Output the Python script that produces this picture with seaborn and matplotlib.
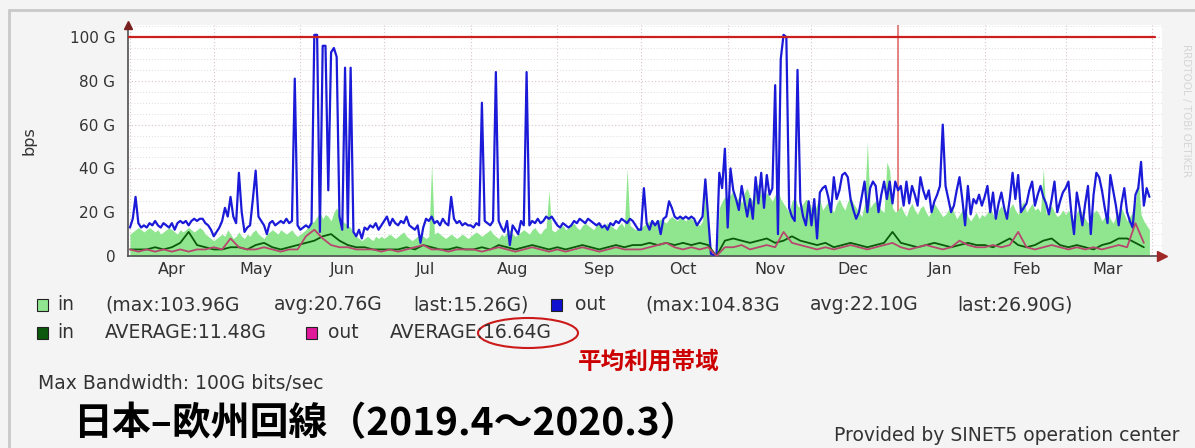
import numpy as np
import pandas as pd
import matplotlib
matplotlib.use('Agg')
import matplotlib.pyplot as plt
import matplotlib.dates as mdates
import matplotlib.patches as mpatches
from matplotlib.ticker import MultipleLocator, FuncFormatter
from matplotlib.lines import Line2D
import seaborn as sns

# ---------------- data (Gbps, daily, 2019-04-01 .. 2020-03-31) ----------------
start_day = '2019-04-01'
# out (blue line), one value per day
out_gbps = [
    13, 17, 27, 15, 13, 14, 13, 15, 14, 16, 14, 13, 15, 14, 13, 15, 12, 15, 16, 15, 16, 14, 16, 17, 16, 17, 17, 15, 14, 12,  # Apr
    9, 11, 13, 16, 22, 18, 27, 18, 15, 38, 20, 11, 13, 14, 26, 39, 18, 16, 14, 10, 15, 16, 14, 15, 16, 15, 17, 15, 16, 81, 14,  # May
    12, 13, 14, 13, 15, 101, 101, 11, 96, 96, 30, 93, 95, 91, 18, 12, 86, 13, 86, 11, 9, 12, 8, 13, 12, 14, 13, 15, 12, 14,  # Jun
    16, 18, 14, 17, 15, 14, 16, 15, 18, 14, 13, 12, 14, 6, 13, 17, 16, 18, 15, 16, 14, 17, 15, 14, 27, 17, 15, 16, 14, 15, 14,  # Jul
    14, 13, 15, 14, 70, 16, 15, 14, 16, 84, 16, 13, 11, 16, 5, 14, 12, 10, 16, 14, 84, 14, 16, 15, 17, 15, 16, 18, 17, 18, 16,  # Aug
    14, 13, 15, 14, 13, 14, 16, 15, 17, 16, 15, 17, 16, 15, 14, 15, 13, 14, 12, 15, 14, 16, 15, 17, 16, 15, 17, 16, 14, 12,  # Sep
    12, 31, 15, 12, 16, 14, 16, 10, 17, 18, 25, 22, 18, 17, 18, 17, 18, 17, 18, 17, 14, 16, 18, 35, 18, 1, 0.5, 0.5, 38, 31, 49,  # Oct
    13, 40, 30, 26, 21, 32, 25, 18, 26, 17, 36, 24, 38, 22, 37, 28, 31, 78, 10, 90, 101, 100, 22, 18, 16, 85, 25, 18, 14, 25,  # Nov
    14, 26, 8, 29, 31, 32, 27, 20, 36, 26, 30, 37, 38, 36, 26, 21, 17, 20, 27, 34, 20, 31, 34, 32, 20, 28, 34, 26, 34, 24, 34,  # Dec
    30, 32, 23, 34, 24, 32, 28, 23, 36, 30, 26, 30, 20, 25, 28, 32, 60, 32, 26, 20, 23, 30, 36, 26, 14, 32, 19, 26, 24, 28, 23,  # Jan
    27, 32, 20, 29, 17, 24, 29, 22, 17, 26, 38, 26, 37, 20, 22, 24, 30, 34, 23, 28, 32, 27, 24, 19, 26, 34, 20, 25, 29,  # Feb
    31, 34, 20, 10, 29, 22, 14, 24, 32, 10, 28, 38, 36, 30, 22, 15, 37, 30, 23, 14, 24, 31, 20, 16, 13, 28, 31, 43, 23, 31, 27,  # Mar
]
# in (light green area), one value per day
in_gbps = [
    10, 11, 12, 13, 12, 11, 12, 13, 12, 11, 12, 10, 11, 12, 13, 12, 11, 10, 12, 11, 12, 13, 12, 11, 12, 13, 12, 10, 9, 8,
    7, 8, 9, 10, 9, 12, 10, 8, 9, 11, 9, 8, 10, 9, 11, 12, 10, 9, 8, 10, 11, 12, 11, 10, 12, 11, 10, 11, 12, 10, 9,
    10, 11, 12, 14, 15, 16, 18, 20, 17, 19, 18, 16, 20, 22, 19, 16, 15, 14, 13, 10, 9, 8, 7, 8, 9, 8, 7, 9, 8, 9,
    8, 9, 10, 9, 8, 9, 10, 11, 9, 8, 7, 8, 9, 10, 9, 8, 9, 42, 10, 11, 10, 9, 8, 9, 10, 9, 8, 9, 10, 9, 8,
    9, 10, 11, 10, 9, 10, 11, 12, 10, 9, 8, 10, 9, 11, 12, 10, 9, 10, 11, 12, 11, 10, 12, 13, 11, 10, 12, 13, 30, 12, 11,
    12, 13, 14, 12, 13, 14, 15, 13, 12, 14, 15, 14, 13, 12, 14, 15, 13, 14, 15, 14, 13, 12, 14, 15, 13, 40, 14, 13, 12, 13,
    13, 14, 15, 16, 15, 14, 16, 17, 16, 15, 17, 18, 17, 16, 18, 17, 16, 18, 17, 16, 15, 14, 16, 30, 15, 0, 0, 0, 22, 25, 27,
    26, 28, 30, 25, 27, 24, 29, 31, 27, 25, 30, 33, 28, 26, 29, 27, 25, 28, 30, 26, 24, 22, 20, 25, 27, 23, 22, 24, 26, 25,
    22, 20, 24, 26, 21, 23, 25, 22, 20, 24, 26, 23, 21, 25, 27, 24, 22, 20, 18, 24, 52, 22, 24, 25, 23, 21, 20, 43, 39, 22, 20,
    21, 23, 20, 18, 22, 24, 21, 19, 22, 23, 20, 18, 21, 24, 22, 20, 18, 19, 21, 23, 20, 17, 19, 21, 22, 18, 16, 18, 20, 17, 19,
    18, 20, 22, 19, 17, 21, 23, 20, 18, 22, 24, 21, 19, 23, 25, 20, 22, 24, 21, 22, 20, 40, 19, 21, 23, 20, 18, 19, 21,
    19, 21, 18, 16, 20, 22, 19, 17, 15, 18, 20, 21, 19, 16, 18, 20, 17, 15, 18, 20, 22, 19, 16, 18, 20, 24, 36, 19, 16, 14, 12,
]
# AVERAGE lines, one value every 3 days
in_avg_gbps = [
    3, 3, 3, 4, 3, 4, 6, 11, 5, 4,
    3, 3, 4, 4, 3, 5, 6, 4, 3, 4, 5,
    6, 7, 9, 10, 7, 5, 4, 4, 3, 3,
    3, 3, 4, 3, 5, 4, 3, 3, 4, 3,
    3, 4, 3, 5, 4, 3, 4, 5, 4, 3,
    4, 3, 4, 5, 4, 3, 4, 5, 4, 5,
    5, 6, 5, 6, 5, 6, 5, 6, 5, 0, 7,
    8, 7, 6, 7, 8, 6, 7, 9, 7, 6,
    5, 6, 4, 5, 6, 5, 4, 5, 6, 11,
    6, 5, 4, 5, 6, 5, 4, 5, 6, 5,
    5, 4, 6, 8, 5, 4, 5, 7, 8, 5,
    4, 5, 4, 3, 5, 6, 8, 8, 6, 4,
]
out_avg_gbps = [
    3, 2, 3, 2, 3, 2, 3, 2, 3, 3,
    4, 3, 8, 4, 3, 3, 4, 3, 2, 3, 3,
    9, 12, 8, 5, 4, 4, 3, 3, 3, 2,
    3, 2, 3, 4, 5, 3, 3, 2, 3, 3,
    3, 2, 3, 4, 3, 2, 3, 4, 3, 2,
    3, 2, 3, 4, 3, 2, 3, 4, 3, 3,
    3, 4, 5, 6, 4, 3, 4, 3, 4, 0, 4,
    4, 5, 3, 4, 5, 4, 11, 6, 5, 4,
    3, 4, 3, 4, 5, 4, 3, 4, 5, 6,
    4, 3, 4, 5, 4, 3, 4, 7, 5, 4,
    4, 5, 4, 5, 11, 4, 3, 4, 5, 4,
    3, 4, 3, 4, 3, 4, 5, 4, 15, 6,
]
legend_row1 = ['in', '(max:103.96G', 'avg:20.76G', 'last:15.26G)',
               'out', '(max:104.83G', 'avg:22.10G', 'last:26.90G)']
legend_row2 = ['in', 'AVERAGE:11.48G', 'out', 'AVERAGE:16.64G']
y_ticks = [0, 20, 40, 60, 80, 100]

days = pd.date_range(start_day, periods=len(out_gbps), freq='D')
days3 = pd.date_range(start_day, periods=len(in_avg_gbps), freq='3D')
df_day = pd.DataFrame({'date': days, 'out': out_gbps, 'in': in_gbps})
df_avg = pd.DataFrame({'date': days3, 'in_avg': in_avg_gbps, 'out_avg': out_avg_gbps})

# ---------------- style ----------------
sns.set_style('white')
plt.rcParams['font.family'] = ['DejaVu Sans']
BG = '#f4f4f4'
TXT = '#333333'
C_IN = '#8fe68f'
C_OUT = '#1a1ad8'
C_INAVG = '#0b5a0b'
C_OUTAVG = '#b8466e'
CJK = ['Noto Sans CJK JP', 'DejaVu Sans']
LEG_FS = 13.5

W, H = 1195, 448
fig = plt.figure(figsize=(W / 100, H / 100), dpi=100, facecolor=BG)


def fx(x):
    return x / W


def fy(y):
    return 1 - y / H


ax = fig.add_axes([fx(128), fy(256), fx(1162) - fx(128), fy(25) - fy(256)])
ax.set_facecolor('white')

# light green area for "in"
ax.fill_between(df_day['date'], 0, df_day['in'], color=C_IN, lw=0, zorder=2)
sns.lineplot(data=df_day, x='date', y='out', ax=ax, color=C_OUT, lw=1.6,
             estimator=None, sort=False, zorder=3)
sns.lineplot(data=df_avg, x='date', y='in_avg', ax=ax, color=C_INAVG, lw=1.3,
             estimator=None, sort=False, zorder=4)
sns.lineplot(data=df_avg, x='date', y='out_avg', ax=ax, color=C_OUTAVG, lw=1.3,
             estimator=None, sort=False, zorder=5)

# max bandwidth line and year boundary
ax.axhline(100, xmax=0.993, color='#cc2020', lw=1.6, zorder=6)
ax.axvline(pd.Timestamp('2020-01-01'), color='#e07070', lw=1.2, zorder=1)

t0 = pd.Timestamp(start_day)
ax.set_xlim(t0 - pd.Timedelta(hours=17), t0 + pd.Timedelta(days=369.5))
ax.set_ylim(0, 105.5)

# axes / grid
ax.yaxis.set_major_locator(MultipleLocator(20))
ax.yaxis.set_minor_locator(MultipleLocator(5))
ax.set_yticks(y_ticks)
ax.yaxis.set_major_formatter(FuncFormatter(lambda v, p: '0' if v == 0 else f'{int(v)} G'))
ax.xaxis.set_major_locator(mdates.MonthLocator())
ax.xaxis.set_major_formatter(plt.NullFormatter())
ax.xaxis.set_minor_locator(mdates.MonthLocator(bymonthday=16))
ax.xaxis.set_minor_formatter(mdates.DateFormatter('%b'))
ax.grid(True, which='major', axis='both', color='#d9c4c4', lw=0.8, ls=(0, (1, 2)), zorder=0)
ax.grid(True, which='minor', axis='y', color='#dddddd', lw=0.7, ls=(0, (1, 2)), zorder=0)
ax.set_axisbelow(True)
ax.tick_params(axis='y', which='major', length=3, color='#555555', labelsize=11, labelcolor=TXT, pad=6)
ax.tick_params(axis='y', which='minor', length=0)
ax.tick_params(axis='x', which='major', length=3, color='#555555')
ax.tick_params(axis='x', which='minor', length=0, labelsize=11.5, labelcolor=TXT, pad=4)
for s in ['top', 'right']:
    ax.spines[s].set_visible(False)
for s in ['left', 'bottom']:
    ax.spines[s].set_color('#505050')
    ax.spines[s].set_linewidth(1.2)
ax.set_xlabel('')
ax.set_ylabel('bps', fontsize=11.5, color=TXT, labelpad=24)
# axis arrows
ax.plot([1], [0], marker='>', color='#a02828', ms=7, transform=ax.transAxes, clip_on=False, zorder=7)
ax.plot([0], [1], marker='^', color='#7a2020', ms=6, transform=ax.transAxes, clip_on=False, zorder=7)

# frame of the graph image
fig.add_artist(Line2D([fx(9), 1], [fy(10), fy(10)], color='#c9c9c9', lw=2))
fig.add_artist(Line2D([fx(9), fx(9)], [fy(10), 0], color='#c9c9c9', lw=2))
fig.text(fx(1186), fy(110), 'RRDTOOL / TOBI OETIKER', rotation=270, fontsize=7.5,
         color='#d6d6d6', ha='center', va='center')

# ---------------- legend ----------------
def swatch(x, y, color):
    fig.add_artist(mpatches.Rectangle((fx(x), fy(y + 6)), 11 / W, 12 / H, transform=fig.transFigure,
                                      facecolor=color, edgecolor='#222222', lw=0.8))


row1_y, row2_y = 305, 333
swatch(37, row1_y, C_IN)
swatch(551, row1_y, '#1010d0')
for s, x in zip(legend_row1, [57, 105, 274, 413, 575, 645, 810, 957]):
    fig.text(fx(x), fy(row1_y), s, fontsize=LEG_FS, color=TXT, va='center', ha='left')
swatch(37, row2_y, C_INAVG)
swatch(306, row2_y, '#e0189a')
for s, x in zip(legend_row2, [57, 105, 328, 390]):
    fig.text(fx(x), fy(row2_y), s, fontsize=LEG_FS, color=TXT, va='center', ha='left')
fig.add_artist(mpatches.Ellipse((fx(528), fy(333)), 100 / W, 30 / H, transform=fig.transFigure,
                                fill=False, edgecolor='#cc1a1a', lw=1.5))
fig.text(fx(578), fy(362), '平均利用帯域', fontsize=17, fontweight='bold', color='#cc0000',
         va='center', ha='left', family=CJK)
fig.text(fx(38), fy(383), 'Max Bandwidth: 100G bits/sec', fontsize=13.5, color=TXT, va='center', ha='left')
fig.text(fx(73), fy(424), '日本–欧州回線（2019.4～2020.3）', fontsize=28, fontweight='bold',
         color='black', va='center', ha='left', family=CJK)
fig.text(fx(1180), fy(435), 'Provided by SINET5 operation center', fontsize=13.5, color=TXT,
         va='center', ha='right')

fig.savefig('out.png', dpi=100, facecolor=BG)
